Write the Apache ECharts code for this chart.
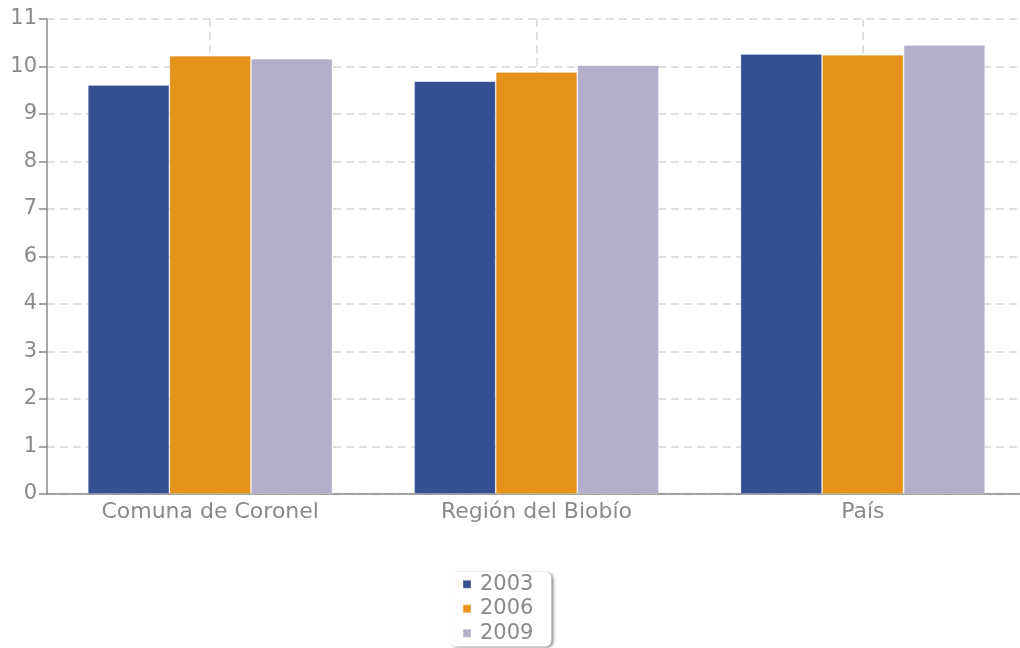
<!DOCTYPE html>
<html>
<head>
<meta charset="utf-8">
<script src="https://cdn.jsdelivr.net/npm/echarts@6/dist/echarts.min.js"></script>
<style>
  html, body { margin: 0; padding: 0; background: #fff; overflow: hidden; }
  #chart { width: 1030px; height: 648px; }
</style>
</head>
<body>
<div id="chart"></div>
<script>
// Categories and yearly values
const categories = ['Comuna de Coronel', 'Región del Biobío', 'País'];
const years = ['2003', '2006', '2009'];
const values2003 = [9.47, 9.56, 10.19];
const values2006 = [10.15, 9.77, 10.17];
const values2009 = [10.08, 9.93, 10.40];
const colors = ['#354f93', '#e5921a', '#b3afca'];

const font = 'DejaVu Sans, Verdana, sans-serif';
const seriesValues = [values2003, values2006, values2009];

const chart = echarts.init(document.getElementById('chart'), null, { renderer: 'canvas' });

chart.setOption({
  animation: false,
  color: colors,
  grid: { left: 47, top: 19, width: 979, height: 475 },
  xAxis: {
    type: 'category',
    data: categories,
    axisLine: { lineStyle: { color: '#8a8a8a', width: 1.5 } },
    axisTick: { alignWithLabel: true, length: 6, lineStyle: { color: '#8a8a8a', width: 1.5 } },
    axisLabel: { color: '#8a8a8a', fontFamily: font, fontSize: 22, margin: 7 },
    splitLine: {
      show: true,
      alignWithLabel: true,
      lineStyle: { color: '#d6d6d6', width: 1.5, type: [8, 5] }
    }
  },
  yAxis: {
    type: 'value',
    min: 0,
    max: 11,
    interval: 1.1,
    axisLine: { show: true, lineStyle: { color: '#8a8a8a', width: 1.5 } },
    axisTick: { show: true, length: 8, lineStyle: { color: '#8a8a8a', width: 1.5 } },
    axisLabel: {
      color: '#8a8a8a', fontFamily: font, fontSize: 21, margin: 10,
      formatter: v => String(Math.round(v))
    },
    splitLine: { lineStyle: { color: '#d6d6d6', width: 1.5, type: [8, 5] } }
  },
  legend: {
    orient: 'vertical',
    left: 450,
    top: 572,
    data: years,
    icon: 'rect',
    itemWidth: 8,
    itemHeight: 8,
    itemGap: 2,
    padding: [1, 18, 2, 12],
    backgroundColor: '#fff',
    borderRadius: 6,
    shadowColor: 'rgba(0,0,0,0.45)',
    shadowBlur: 3,
    shadowOffsetX: 2,
    shadowOffsetY: 1,
    textStyle: { color: '#8a8a8a', fontFamily: font, fontSize: 21, lineHeight: 22.5, padding: [0, 0, 0, 4] }
  },
  series: years.map((y, i) => ({
    name: y,
    type: 'bar',
    data: seriesValues[i],
    barGap: '0%',
    barCategoryGap: '25%',
    itemStyle: { borderColor: 'rgba(255,255,255,0.2)', borderWidth: 1 }
  }))
});
</script>
</body>
</html>
